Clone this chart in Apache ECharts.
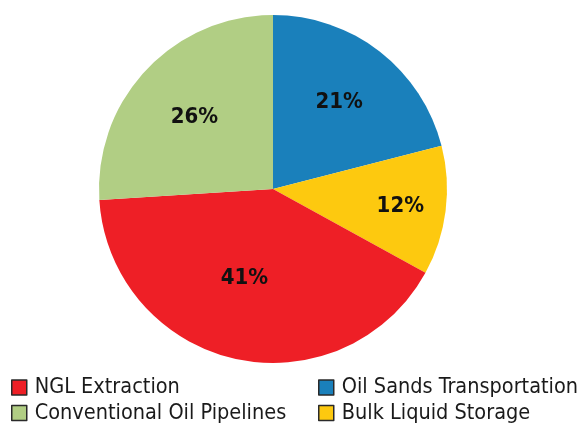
<!DOCTYPE html>
<html>
<head>
<meta charset="utf-8">
<script src="https://cdn.jsdelivr.net/npm/echarts@6/dist/echarts.min.js"></script>
<style>
html,body{margin:0;padding:0;background:#fff;}
#chart{width:582px;height:425px;}
</style>
</head>
<body>
<div id="chart"></div>
<script>
var categories = ['Oil Sands Transportation', 'Bulk Liquid Storage', 'NGL Extraction', 'Conventional Oil Pipelines'];
var values = [21, 12, 41, 26];
var colors = ['#1a80bb', '#fdc90f', '#ee1f26', '#b1ce84'];
var labelOffsets = [[11, -16], [38, 6], [-9, 1], [-13, -10]];
var legendRows = [['NGL Extraction', 'Oil Sands Transportation'], ['Conventional Oil Pipelines', 'Bulk Liquid Storage']];

var FONT = '"DejaVu Sans Condensed", "Liberation Sans Narrow", "Liberation Sans", sans-serif';
var chart = echarts.init(document.getElementById('chart'));
var data = categories.map(function (c, i) {
  return {
    name: c,
    value: values[i],
    itemStyle: { color: colors[i] },
    label: { offset: labelOffsets[i] }
  };
});
var colLeft = [11, 318];
var rowTop = [376.5, 402];
var legends = [];
legendRows.forEach(function (row, r) {
  row.forEach(function (name, c) {
    legends.push({
      left: colLeft[c], top: rowTop[r], icon: 'rect', itemWidth: 15, itemHeight: 15,
      padding: 0, selectedMode: false, data: [name],
      textStyle: { fontFamily: FONT, fontSize: 21.5, color: '#1a1a1a', lineHeight: 22, padding: [0, 0, 0, 3] },
      itemStyle: { borderColor: '#2a2a2a', borderWidth: 1.5 }
    });
  });
});
chart.setOption({
  animation: false,
  legend: legends,
  series: [{
    type: 'pie',
    center: [273, 189],
    radius: [0, 174],
    startAngle: 90,
    clockwise: true,
    itemStyle: { borderWidth: 0 },
    label: {
      show: true,
      position: 'inside',
      formatter: '{c}%',
      fontFamily: FONT,
      fontWeight: 'bold',
      fontSize: 22,
      color: '#111'
    },
    labelLine: { show: false },
    data: data
  }]
});
</script>
</body>
</html>
